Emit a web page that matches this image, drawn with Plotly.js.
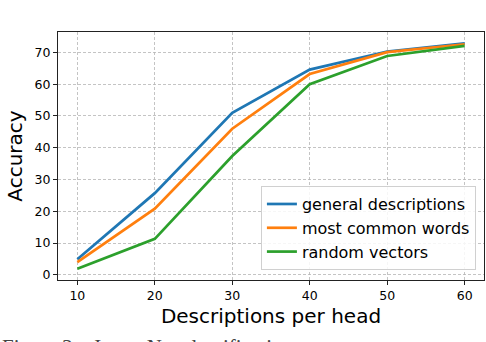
<!DOCTYPE html>
<html>
<head>
<meta charset="utf-8">
<script src="https://cdn.plot.ly/plotly-3.0.1.min.js"></script>
<style>
  html, body { margin: 0; padding: 0; background: #fff; overflow: hidden; }
  #chart { width: 486px; height: 342px; }
</style>
</head>
<body>
<div id="chart"></div>
<script>
const descriptions = [10, 20, 30, 40, 50, 60];
const generalDescriptions = [4.9, 25.7, 51.0, 64.6, 70.3, 72.9];
const mostCommonWords = [4.0, 20.8, 46.0, 63.2, 70.1, 72.6];
const randomVectors = [1.9, 11.3, 37.4, 60.0, 68.9, 72.1];
const xTicks = [10, 20, 30, 40, 50, 60];
const yTicks = [0, 10, 20, 30, 40, 50, 60, 70];

const font = 'DejaVu Sans, sans-serif';

function series(y, name, color, group) {
  return {
    x: descriptions,
    y: y,
    name: name,
    type: 'scatter',
    mode: 'lines',
    line: { color: color, width: 2.7 },
    legendgroup: group
  };
}

const traces = [
  series(generalDescriptions, 'general descriptions', '#1f77b4', 'a'),
  series(mostCommonWords, 'most common words', '#ff7f0e', 'b'),
  series(randomVectors, 'random vectors', '#2ca02c', 'c')
];

const axisBase = {
  showline: true,
  mirror: true,
  linecolor: '#222',
  linewidth: 1,
  ticks: 'outside',
  ticklen: 4,
  tickwidth: 1,
  tickcolor: '#222',
  showgrid: true,
  gridcolor: '#b5b5b5',
  griddash: '3px,2px',
  gridwidth: 0.8,
  zeroline: false,
  tickfont: { family: font, size: 12.5, color: '#000' }
};

const layout = {
  width: 486,
  height: 342,
  margin: { l: 58, r: 2, t: 32, b: 62 },
  paper_bgcolor: '#fff',
  plot_bgcolor: '#fff',
  font: { family: font, color: '#000' },
  xaxis: Object.assign({}, axisBase, {
    range: [7.5, 62.5],
    tickvals: xTicks,
    title: { text: 'Descriptions per head', font: { family: font, size: 20 }, standoff: 6 }
  }),
  yaxis: Object.assign({}, axisBase, {
    range: [-1.65, 76.45],
    tickvals: yTicks,
    title: { text: 'Accuracy', font: { family: font, size: 20 }, standoff: 6 }
  }),
  legend: {
    x: 0.981,
    y: 0.04,
    xanchor: 'right',
    yanchor: 'bottom',
    bgcolor: 'rgba(255,255,255,0.85)',
    bordercolor: '#d0d0d0',
    borderwidth: 1,
    traceorder: 'grouped',
    tracegroupgap: 0,
    font: { family: font, size: 16, color: '#000' }
  },
  annotations: [{
    text: 'Figure 3:   ImageNet classification accuracy',
    xref: 'paper', yref: 'paper',
    x: -0.135, y: -0.215,
    xanchor: 'left', yanchor: 'top',
    showarrow: false,
    font: { family: 'Liberation Serif, serif', size: 21, color: '#444' }
  }]
};

Plotly.newPlot('chart', traces, layout, { displayModeBar: false, staticPlot: true });
</script>
</body>
</html>
